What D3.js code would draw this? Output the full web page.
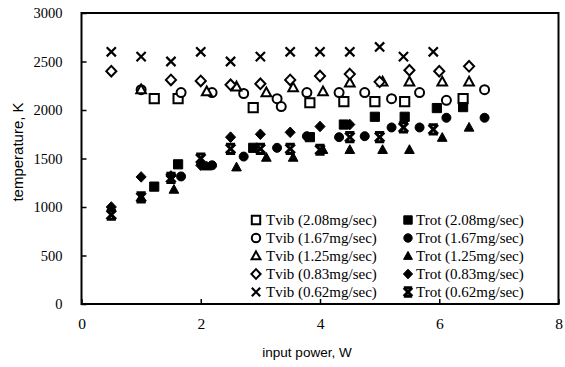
<!DOCTYPE html>
<html>
<head>
<meta charset="utf-8">
<script src="https://cdn.jsdelivr.net/npm/d3@7"></script>
<style>
  body { margin: 0; background: #fff; }
  svg { display: block; }
</style>
</head>
<body>
<div id="chart"></div>
<script>
// tick labels
const xTicks = [0, 2, 4, 6, 8];
const yTicks = [0, 500, 1000, 1500, 2000, 2500, 3000];

// 2.08 mg/sec
const power208 = [1.22, 1.62, 2.88, 3.83, 4.4, 4.92, 5.42, 5.96, 6.4];
const tvib208 = [2117, 2117, 2025, 2075, 2086, 2086, 2086, null, 2117];
const trot208 = [1210, 1440, 1610, 1720, 1850, 1930, 1930, 2020, 2030];
// 1.67 mg/sec
const power167 = [1.0, 1.67, 2.19, 2.72, 3.28, 3.35, 3.78, 4.32, 4.75, 5.2, 5.67, 6.12, 6.76];
const tvib167 = [2210, 2180, 2180, 2170, 2117, 2035, 2180, 2180, 2180, 2117, 2180, 2100, 2210];
const trot167 = [null, 1315, 1430, 1520, 1610, null, 1730, 1720, 1730, 1820, 1820, 1920, 1920];
// 1.25 mg/sec
const power125 = [1.0, 1.55, 2.1, 2.6, 3.1, 3.55, 4.05, 4.5, 5.05, 5.5, 6.05, 6.5];
const tvib125 = [2210, null, 2190, 2240, 2180, 2230, 2190, 2280, 2290, 2290, 2290, 2290];
const trot125 = [1100, 1180, 1420, 1410, 1510, 1510, 1590, 1590, 1590, 1590, 1715, 1820];
// 0.83 mg/sec
const power83 = [0.5, 1.0, 1.5, 2.0, 2.5, 3.0, 3.5, 4.0, 4.5, 5.0, 5.5, 6.0, 6.5];
const tvib83 = [2400, null, 2310, 2300, 2260, 2270, 2310, 2350, 2370, 2290, 2410, 2400, 2450];
const trot83 = [1000, 1310, 1320, 1430, 1720, 1750, 1770, 1830, 1850, null, null, null, null];
// 0.62 mg/sec
const power62 = [0.5, 1.0, 1.5, 2.0, 2.5, 3.0, 3.5, 4.0, 4.5, 5.0, 5.4, 5.9];
const tvib62 = [2600, 2550, 2500, 2600, 2500, 2550, 2600, 2600, 2600, 2650, 2550, 2600];
const trot62 = [920, 1100, 1300, 1500, 1600, 1600, 1600, 1590, 1720, 1720, 1820, 1800];

const flows = ["2.08", "1.67", "1.25", "0.83", "0.62"];

const width = 565, height = 367;
const margin = { top: 13, right: 6.5, bottom: 63, left: 81.5 };

const svg = d3.select("#chart").append("svg")
  .attr("width", width)
  .attr("height", height);

const x = d3.scaleLinear().domain([0, 8]).range([margin.left, width - margin.right]);
const y = d3.scaleLinear().domain([0, 3000]).range([height - margin.bottom, margin.top]);

// marker paths
function markerPath(kind, s) {
  switch (kind) {
    case "square": return `M${-s},${-s}H${s}V${s}H${-s}Z`;
    case "circle": return `M${s},0A${s},${s} 0 1,1 ${-s},0A${s},${s} 0 1,1 ${s},0Z`;
    case "triangle": return `M0,${-s * 1.1}L${s * 1.05},${s * 0.8}H${-s * 1.05}Z`;
    case "diamond": return `M0,${-s * 1.15}L${s * 1.1},0L0,${s * 1.15}L${-s * 1.1},0Z`;
    case "x": return `M${-s},${-s}L${s},${s}M${s},${-s}L${-s},${s}`;
    case "xbar": return `M${-s},${-s}L${s},${s}M${s},${-s}L${-s},${s}M${-s},${-s}H${s}M${-s},${s}H${s}`;
  }
}
const kinds = ["square", "circle", "triangle", "diamond", "x"];

function drawMarker(g, kind, filled, s) {
  if (kind === "x") {
    g.append("path")
      .attr("d", markerPath(filled ? "xbar" : "x", s))
      .attr("fill", "none")
      .attr("stroke", "#000")
      .attr("stroke-width", filled ? 3 : 2.2);
    return;
  }
  g.append("path")
    .attr("d", markerPath(kind, s))
    .attr("fill", filled ? "#000" : "#fff")
    .attr("stroke", "#000")
    .attr("stroke-width", filled ? 1 : 2);
}

const series = [
  { kind: "square", power: power208, tvib: tvib208, trot: trot208 },
  { kind: "circle", power: power167, tvib: tvib167, trot: trot167 },
  { kind: "triangle", power: power125, tvib: tvib125, trot: trot125 },
  { kind: "diamond", power: power83, tvib: tvib83, trot: trot83 },
  { kind: "x", power: power62, tvib: tvib62, trot: trot62 }
];

// axes
const yAxis = d3.axisLeft(y).tickValues(yTicks).tickFormat(d3.format("d")).tickSize(-5).tickPadding(19);
const yg = svg.append("g")
  .attr("transform", `translate(${margin.left},0)`)
  .call(yAxis);
yg.select(".domain").remove();
yg.selectAll("line").attr("stroke-width", 1.5);
yg.selectAll("text")
  .attr("font-family", "'Liberation Serif', serif")
  .attr("font-size", 14.5)
  .attr("fill", "#000");

const xAxis = d3.axisBottom(x).tickValues(xTicks).tickFormat(d3.format("d")).tickSize(-5).tickPadding(14);
const xg = svg.append("g")
  .attr("transform", `translate(0,${height - margin.bottom})`)
  .call(xAxis);
xg.select(".domain").remove();
xg.selectAll("line").attr("stroke-width", 1.5);
xg.selectAll("text")
  .attr("font-family", "'Liberation Serif', serif")
  .attr("font-size", 15.5)
  .attr("fill", "#000");

// frame
svg.append("rect")
  .attr("x", margin.left)
  .attr("y", margin.top)
  .attr("width", width - margin.right - margin.left)
  .attr("height", height - margin.bottom - margin.top)
  .attr("fill", "none")
  .attr("stroke", "#000")
  .attr("stroke-width", 2);

// axis titles
svg.append("text")
  .attr("x", 307)
  .attr("y", 357)
  .attr("text-anchor", "middle")
  .attr("font-family", "'Liberation Sans', Arial, sans-serif")
  .attr("font-size", 13.5)
  .text("input power, W");

svg.append("text")
  .attr("transform", "translate(23,152) rotate(-90)")
  .attr("text-anchor", "middle")
  .attr("font-family", "'Liberation Sans', Arial, sans-serif")
  .attr("font-size", 15)
  .text("temperature, K");

// points: Tvib open, Trot filled
const plot = svg.append("g");
series.forEach(s => {
  ["tvib", "trot"].forEach(key => {
    s.power.forEach((p, i) => {
      const v = s[key][i];
      if (v == null) return;
      const g = plot.append("g").attr("transform", `translate(${x(p)},${y(v)})`);
      drawMarker(g, s.kind, key === "trot", s.kind === "circle" ? 4.5 : 4.6);
    });
  });
});

// legend
const legend = svg.append("g");
const rowY = d3.scaleLinear().domain([0, 1]).range([220, 238]);
flows.forEach((f, i) => {
  [["Tvib", false, 256, 266], ["Trot", true, 408, 416]].forEach(([name, filled, mx, tx]) => {
    const g = legend.append("g").attr("transform", `translate(${mx},${rowY(i)})`);
    drawMarker(g, kinds[i], filled, 4.2);
    legend.append("text")
      .attr("x", tx)
      .attr("y", rowY(i) + 5)
      .attr("font-family", "'Liberation Serif', serif")
      .attr("font-size", 15)
      .text(`${name} (${f}mg/sec)`);
  });
});
</script>
</body>
</html>
